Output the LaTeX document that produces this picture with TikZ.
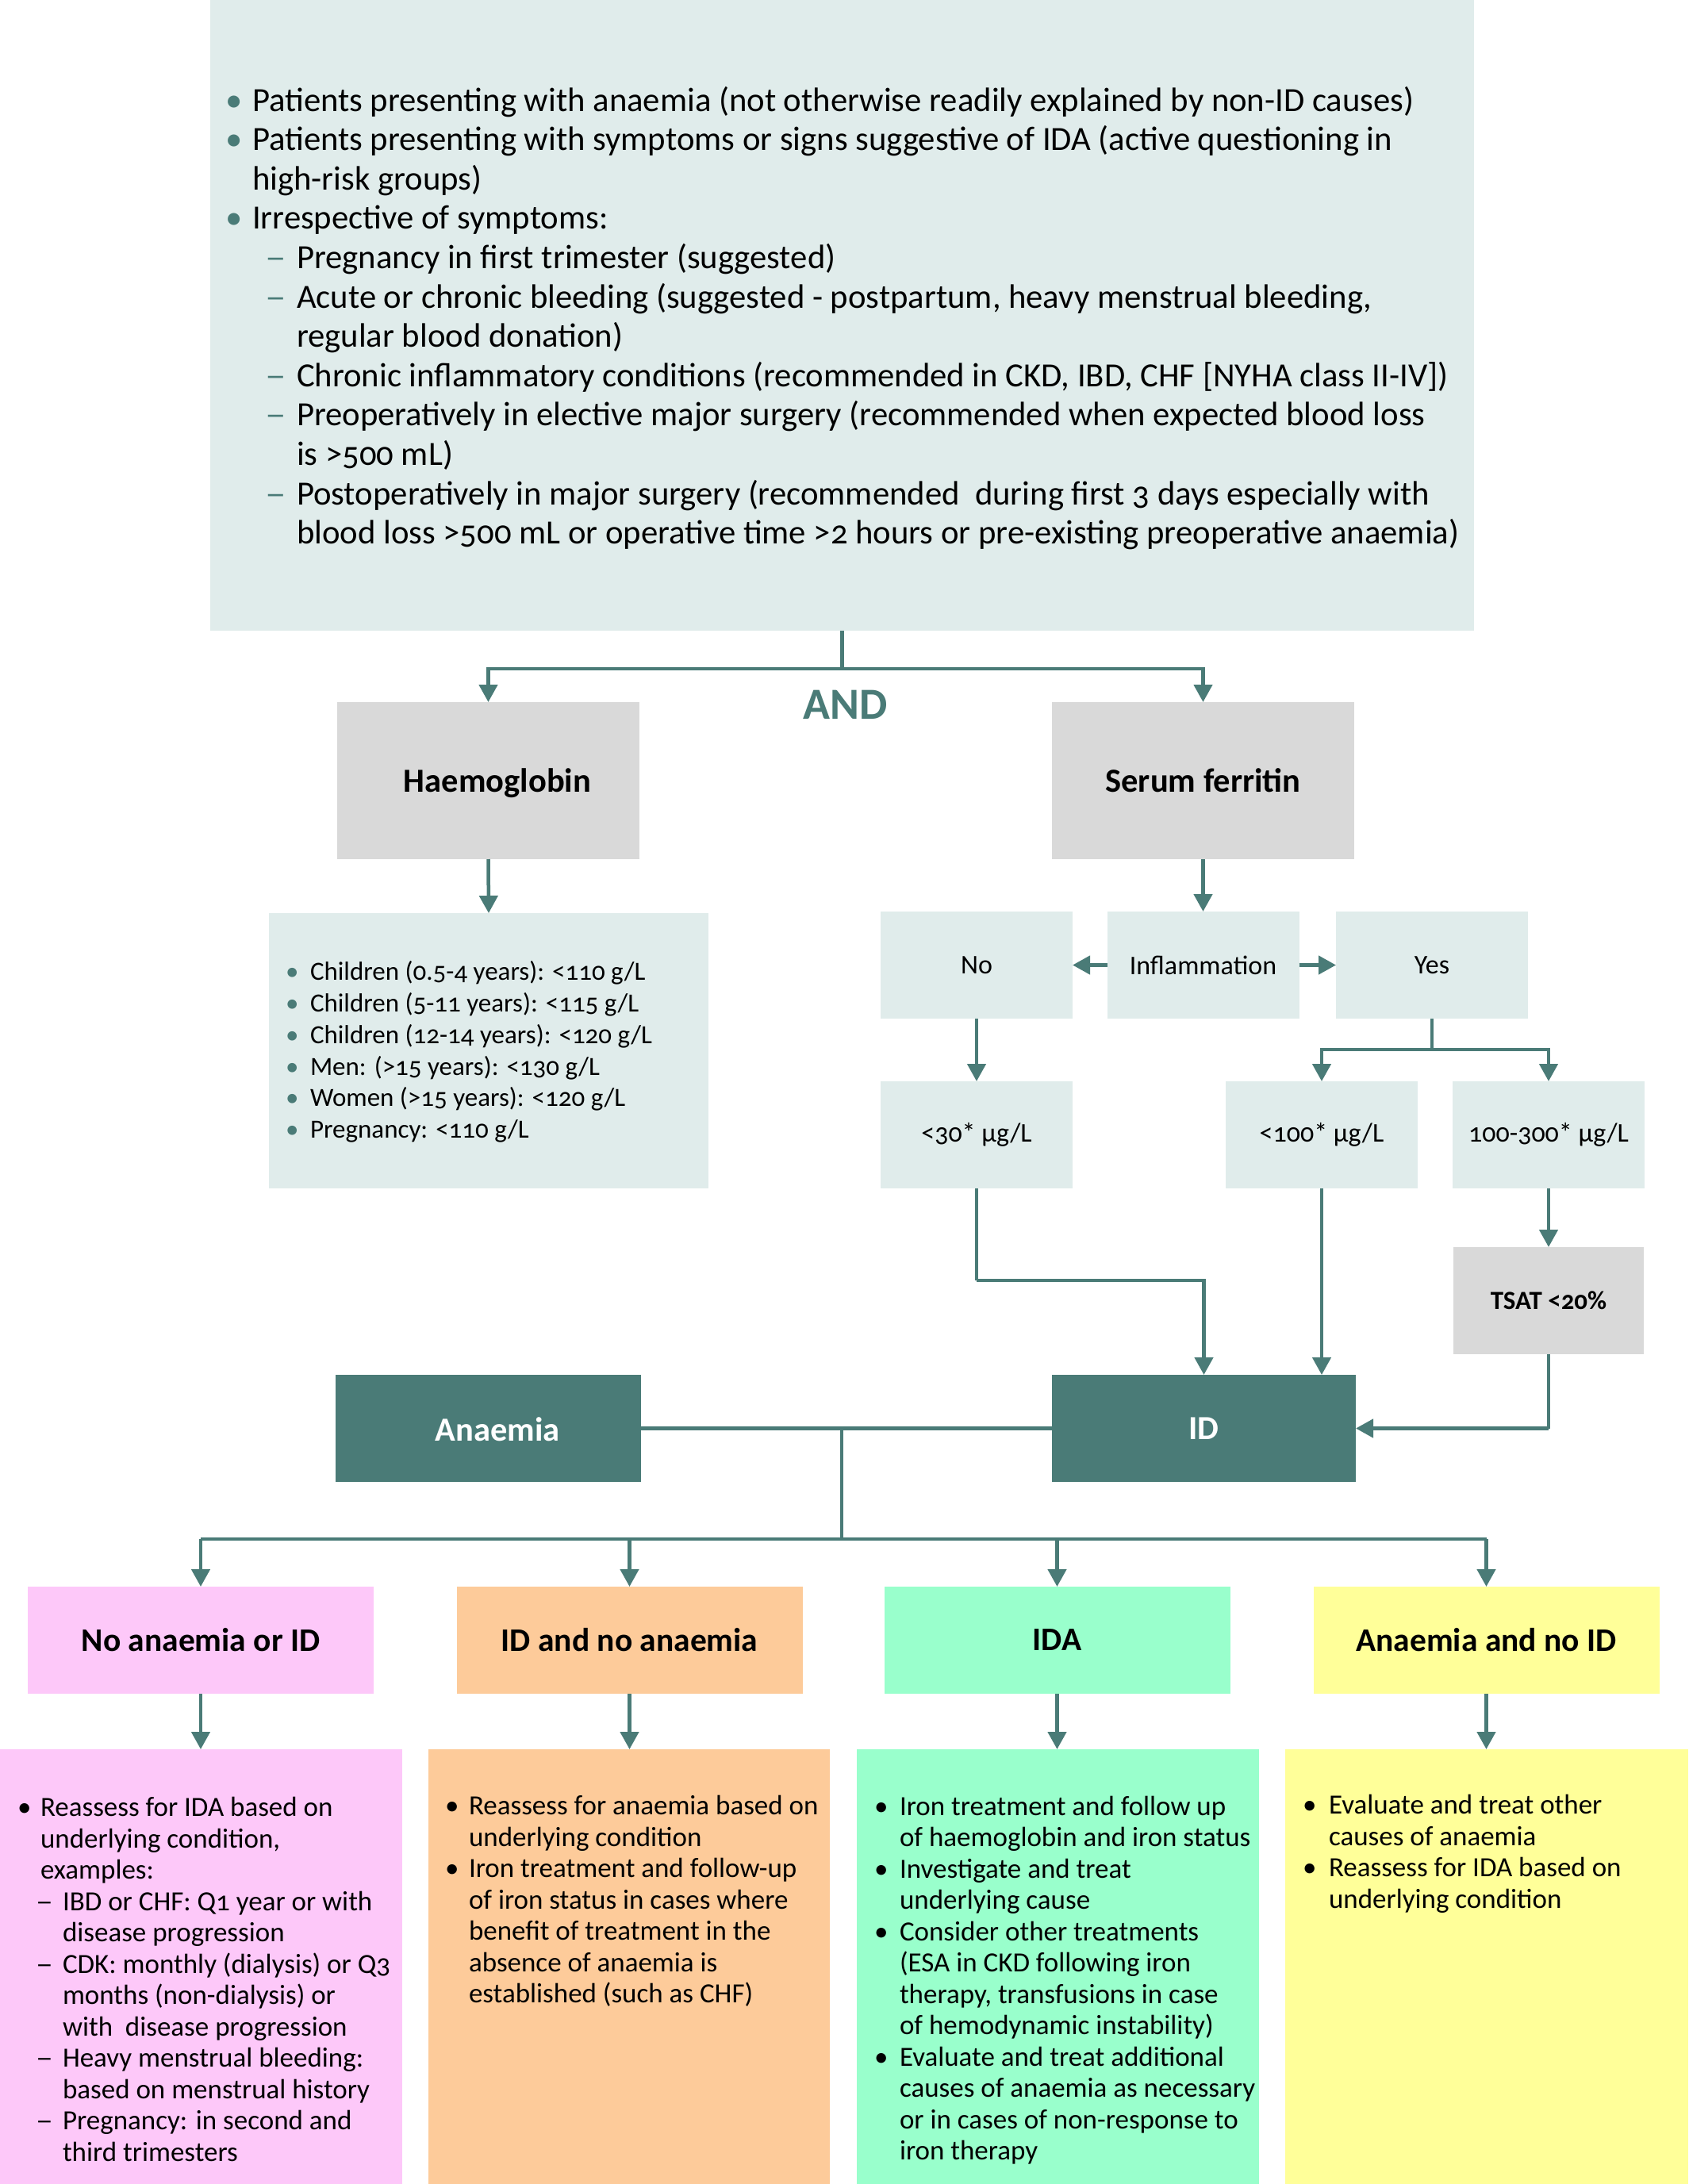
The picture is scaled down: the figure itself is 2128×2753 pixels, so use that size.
\documentclass[tikz,border=0pt]{standalone}
\usepackage{fontspec}
\setmainfont{Carlito}[Numbers=OldStyle]
\usetikzlibrary{arrows.meta}
\definecolor{tealc}{HTML}{4A7B77}
\definecolor{boxc}{HTML}{E0ECEB}
\definecolor{grayc}{HTML}{D9D9D9}
\definecolor{pinkc}{HTML}{FDC8F9}
\definecolor{orangec}{HTML}{FDCB9A}
\definecolor{greenc}{HTML}{99FFCC}
\definecolor{yellowc}{HTML}{FFFF99}
% bullet: box width, colour, left shift
\newcommand{\myB}[3]{\makebox[#1][l]{\hspace*{#3}\textcolor{#2}{\textbullet}}}
\newcommand{\myD}[3]{\hspace*{#1}\makebox[#2][l]{\hspace*{-6pt}\textcolor{#3}{\scalebox{1.25}[1]{–}}}}
\begin{document}
\begin{tikzpicture}[x=1pt,y=-1pt,
  bx/.style={rectangle,inner sep=0pt,outer sep=0pt,minimum width=#1},
  ln/.style={draw=tealc,line width=4.5pt},
  arr/.style={draw=tealc,line width=4.5pt,-{Triangle[width=23pt,length=22pt]}},
  txt/.style={inner sep=0pt,outer sep=0pt,align=left,anchor=west},
  lab/.style={font=\fontsize{34}{40}\selectfont},
  blab/.style={font=\bfseries\fontsize{42.5}{48}\selectfont},
  clab/.style={font=\bfseries\fontsize{41.5}{48}\selectfont},
  stxt/.style={txt,font=\fontsize{35}{39.5}\selectfont}
]
\useasboundingbox (0,0) rectangle (2128,2753);
\fill[white] (0,0) rectangle (2128,2753);

% top box
\node[bx=1593pt,minimum height=795pt,fill=boxc] (top) at (1061.5,397.5) {};
\node[txt,font=\fontsize{42.7}{49.6}\selectfont] (toptext) at (296,401) {%
\myB{22pt}{tealc}{-12pt}Patients presenting with anaemia (not otherwise readily explained by non-ID causes)\\
\myB{22pt}{tealc}{-12pt}Patients presenting with symptoms or signs suggestive of IDA (active questioning in\\
\hspace*{22pt}high-risk groups)\\
\myB{22pt}{tealc}{-12pt}Irrespective of symptoms:\\
\myD{44pt}{34pt}{tealc}Pregnancy in first trimester (suggested)\\
\myD{44pt}{34pt}{tealc}Acute or chronic bleeding (suggested - postpartum, heavy menstrual bleeding,\\
\hspace*{78pt}regular blood donation)\\
\myD{44pt}{34pt}{tealc}Chronic inflammatory conditions (recommended in CKD, IBD, CHF [NYHA class II-IV])\\
\myD{44pt}{34pt}{tealc}Preoperatively in elective major surgery (recommended when expected blood loss\\
\hspace*{78pt}is >500 mL)\\
\myD{44pt}{34pt}{tealc}Postoperatively in major surgery (recommended\ \ during first 3 days especially with\\
\hspace*{78pt}blood loss >500 mL or operative time >2 hours or pre-existing preoperative anaemia)};

% second row
\node[bx=381pt,minimum height=198pt,fill=grayc] (hb) at (615.5,984) {};
\node[blab,inner sep=0pt] (hbt) at (627,987) {Haemoglobin};
\node[bx=381pt,minimum height=198pt,fill=grayc,blab] (sf) at (1516.5,984) {Serum ferritin};
\node[text=tealc,font=\bfseries\fontsize{56}{60}\selectfont,inner sep=0pt] (and) at (1066,888) {AND};

\coordinate (j1) at (1061.5,843);
\draw[ln] (top.south) -- (j1);
\draw[arr] (j1) -| (hb.north);
\draw[arr] (j1) -| (sf.north);

% haemoglobin list
\node[bx=554pt,minimum height=347pt,fill=boxc] (hbl) at (616,1324.5) {};
\node[txt,font=\fontsize{33}{39.7}\selectfont] (hbltext) at (367,1326) {%
\myB{24pt}{tealc}{-7pt}Children (0.5-4 years): <110 g/L\\
\myB{24pt}{tealc}{-7pt}Children (5-11 years): <115 g/L\\
\myB{24pt}{tealc}{-7pt}Children (12-14 years): <120 g/L\\
\myB{24pt}{tealc}{-7pt}Men: (>15 years): <130 g/L\\
\myB{24pt}{tealc}{-7pt}Women (>15 years): <120 g/L\\
\myB{24pt}{tealc}{-7pt}Pregnancy: <110 g/L};
\draw[arr] (hb.south) -- (hbl.north);

% ferritin branch
\node[bx=242pt,minimum height=135pt,fill=boxc,lab] (no) at (1231,1216.5) {No};
\node[bx=242pt,minimum height=135pt,fill=boxc,lab] (infl) at (1516.5,1216.5) {Inflammation};
\node[bx=242pt,minimum height=135pt,fill=boxc,lab] (yes) at (1805,1216.5) {Yes};
\draw[arr] (sf.south) -- (infl.north);
\draw[arr] (infl.west) -- (no.east);
\draw[arr] (infl.east) -- (yes.west);

\node[bx=242pt,minimum height=135pt,fill=boxc,lab] (lt30) at (1231,1430.5) {<30* µg/L};
\node[bx=242pt,minimum height=135pt,fill=boxc,lab] (lt100) at (1666,1430.5) {<100* µg/L};
\node[bx=242pt,minimum height=135pt,fill=boxc,lab] (r100) at (1952,1430.5) {100-300* µg/L};
\draw[arr] (no.south) -- (lt30.north);
\coordinate (j2) at (1805,1323);
\draw[ln] (yes.south) -- (j2);
\draw[arr] (j2) -| (lt100.north);
\draw[arr] (j2) -| (r100.north);

\node[bx=240pt,minimum height=135pt,fill=grayc,font=\bfseries\fontsize{33}{40}\selectfont] (tsat) at (1952,1639.5) {TSAT <20\%};
\draw[arr] (r100.south) -- (tsat.north);

% anaemia / ID
\node[bx=385pt,minimum height=135pt,fill=tealc] (anaemia) at (615.5,1800.5) {};
\node[blab,text=white,inner sep=0pt] (anaemiat) at (627,1802) {Anaemia};
\node[bx=383pt,minimum height=135pt,fill=tealc,text=white,blab] (id) at (1517.5,1800.5) {ID};
\coordinate (j3) at (1231,1614);
\draw[ln] (lt30.south) -- (j3);
\draw[arr] (j3) -| (id.north);
\draw[arr] (lt100.south) -- (lt100.south |- id.north);
\coordinate (j4) at (1952,1800.5);
\draw[ln] (tsat.south) -- (j4);
\draw[arr] (j4) -- (id.east);
\draw[ln] (anaemia.east) -- (id.west);

% categories
\node[bx=436pt,minimum height=135pt,fill=pinkc,clab] (c1) at (253,2067.5) {No anaemia or ID};
\node[bx=436pt,minimum height=135pt,fill=orangec,clab] (c2) at (793.5,2067.5) {ID and no anaemia};
\node[bx=436pt,minimum height=135pt,fill=greenc,clab] (c3) at (1332.5,2067.5) {IDA};
\node[bx=436pt,minimum height=135pt,fill=yellowc,clab] (c4) at (1873.5,2067.5) {Anaemia and no ID};
\coordinate (j5) at (1061,1800.5);
\coordinate (j6) at (1061,1940);
\draw[ln] (j5) -- (j6);
\draw[ln] (c1.north |- j6) -- (c4.north |- j6);
\draw[arr] (c1.north |- j6) -- (c1.north);
\draw[arr] (c2.north |- j6) -- (c2.north);
\draw[arr] (c3.north |- j6) -- (c3.north);
\draw[arr] (c4.north |- j6) -- (c4.north);

% bottom boxes
\node[bx=507pt,minimum height=548pt,fill=pinkc] (b1) at (253.5,2479) {};
\node[bx=506pt,minimum height=548pt,fill=orangec] (b2) at (793,2479) {};
\node[bx=507pt,minimum height=548pt,fill=greenc] (b3) at (1333.5,2479) {};
\node[bx=508pt,minimum height=548pt,fill=yellowc] (b4) at (1874,2479) {};
\draw[arr] (c1.south) -- (c1.south |- b1.north);
\draw[arr] (c2.south) -- (c2.south |- b2.north);
\draw[arr] (c3.south) -- (c3.south |- b3.north);
\draw[arr] (c4.south) -- (c4.south |- b4.north);

\node[stxt] (b1text) at (29,2495) {%
\myB{22pt}{black}{-7pt}Reassess for IDA based on\\
\hspace*{22pt}underlying condition,\\
\hspace*{22pt}examples:\\
\myD{22pt}{28pt}{black}IBD or CHF: Q1 year or with\\
\hspace*{50pt}disease progression\\
\myD{22pt}{28pt}{black}CDK: monthly (dialysis) or Q3\\
\hspace*{50pt}months (non-dialysis) or\\
\hspace*{50pt}with\ \ disease progression\\
\myD{22pt}{28pt}{black}Heavy menstrual bleeding:\\
\hspace*{50pt}based on menstrual history\\
\myD{22pt}{28pt}{black}Pregnancy: in second and\\
\hspace*{50pt}third trimesters};

\node[stxt] (b2text) at (568,2396.5) {%
\myB{23pt}{black}{-7pt}Reassess for anaemia based on\\
\hspace*{23pt}underlying condition\\
\myB{23pt}{black}{-7pt}Iron treatment and follow-up\\
\hspace*{23pt}of iron status in cases where\\
\hspace*{23pt}benefit of treatment in the\\
\hspace*{23pt}absence of anaemia is\\
\hspace*{23pt}established (such as CHF)};

\node[stxt] (b3text) at (1109,2496) {%
\myB{25pt}{black}{-7pt}Iron treatment and follow up\\
\hspace*{25pt}of haemoglobin and iron status\\
\myB{25pt}{black}{-7pt}Investigate and treat\\
\hspace*{25pt}underlying cause\\
\myB{25pt}{black}{-7pt}Consider other treatments\\
\hspace*{25pt}(ESA in CKD following iron\\
\hspace*{25pt}therapy, transfusions in case\\
\hspace*{25pt}of hemodynamic instability)\\
\myB{25pt}{black}{-7pt}Evaluate and treat additional\\
\hspace*{25pt}causes of anaemia as necessary\\
\hspace*{25pt}or in cases of non-response to\\
\hspace*{25pt}iron therapy};

\node[stxt] (b4text) at (1649,2337) {%
\myB{26pt}{black}{-7pt}Evaluate and treat other\\
\hspace*{26pt}causes of anaemia\\
\myB{26pt}{black}{-7pt}Reassess for IDA based on\\
\hspace*{26pt}underlying condition};
\end{tikzpicture}
\end{document}
